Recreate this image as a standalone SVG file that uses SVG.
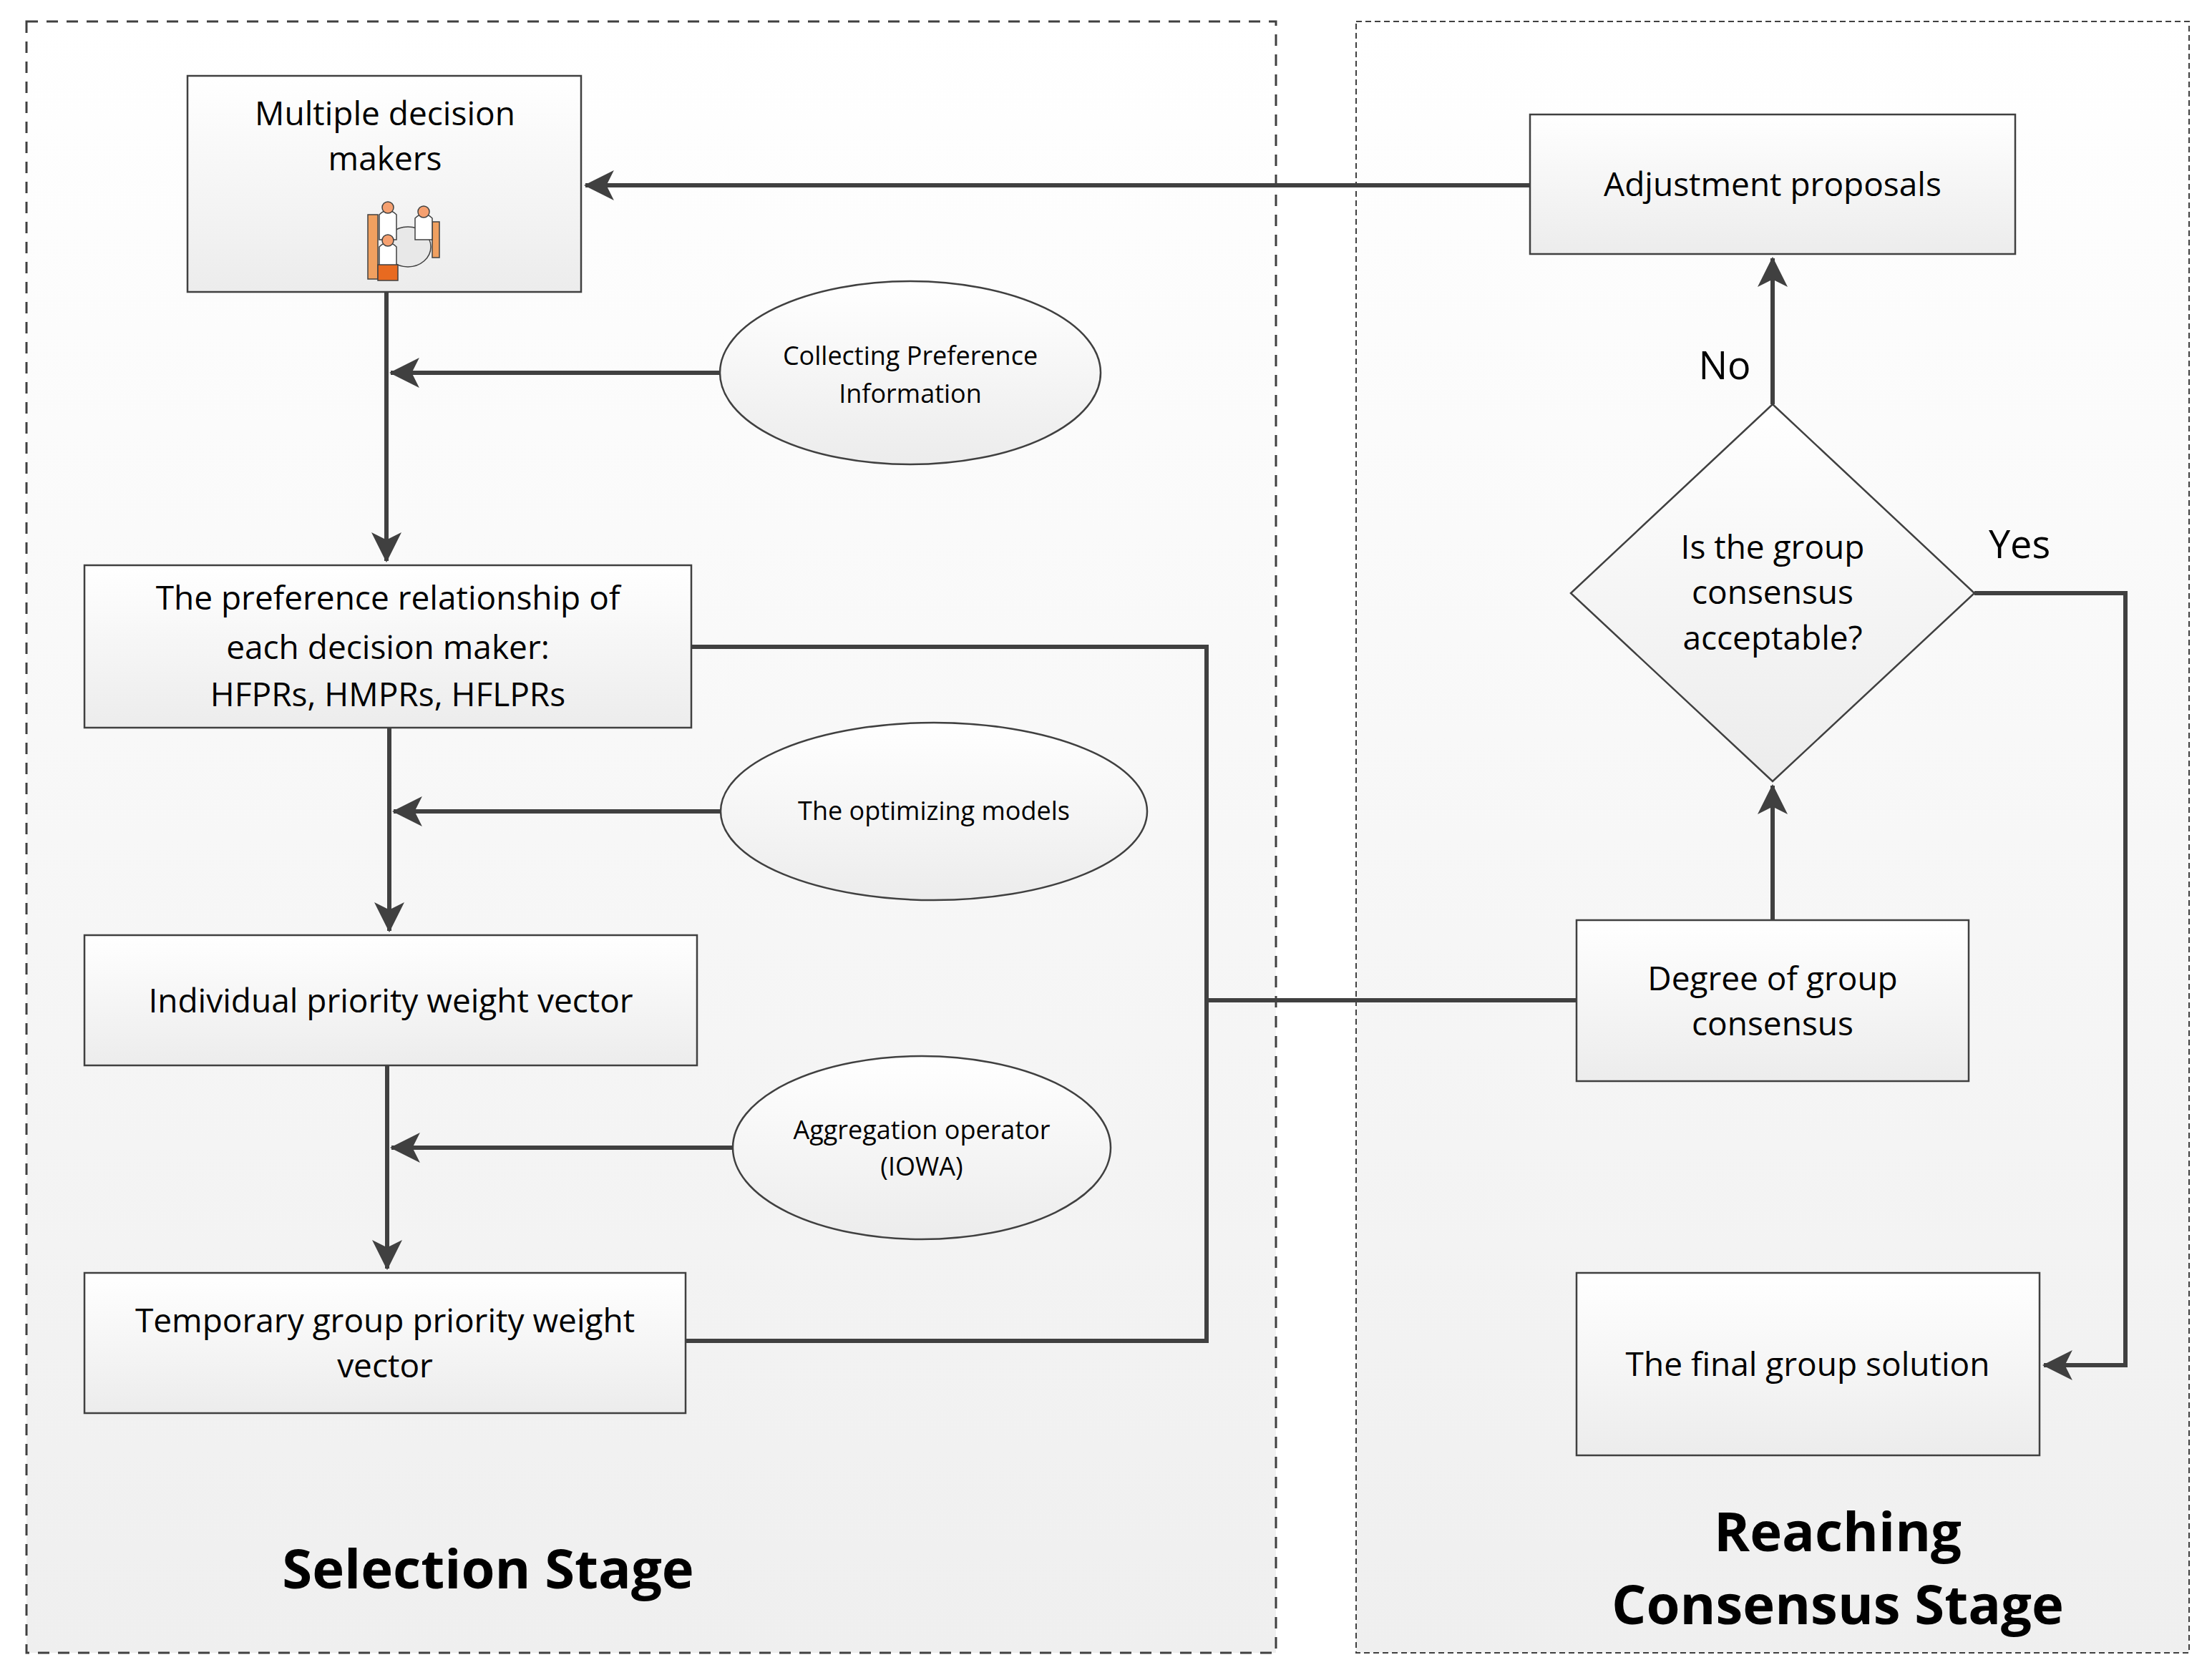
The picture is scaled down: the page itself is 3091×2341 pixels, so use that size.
<svg xmlns="http://www.w3.org/2000/svg" width="3091" height="2341" viewBox="0 0 3091 2341">
<style>
.t{font-family:"Open Sans","Liberation Sans",sans-serif;fill:#000;text-anchor:middle}
.b{font-size:46px}.s{font-size:36px}.y{font-size:54px}
.h{font-family:"Open Sans","Liberation Sans",sans-serif;font-weight:bold;font-size:76px;text-anchor:middle}
.n{stroke:#404040;stroke-width:2.5;fill:url(#ng)}
.c{stroke:#404040;stroke-width:6;fill:none}
</style>
<defs>
<linearGradient id="pg" x1="0" y1="0" x2="0" y2="1"><stop offset="0" stop-color="#fff"/><stop offset="1" stop-color="#efefef"/></linearGradient>
<linearGradient id="ng" x1="0" y1="0" x2="0" y2="1"><stop offset="0" stop-color="#fff"/><stop offset="1" stop-color="#ececec"/></linearGradient>
<marker id="a" viewBox="0 0 20 20" refX="19" refY="10" markerWidth="7" markerHeight="7" markerUnits="strokeWidth" orient="auto"><path d="M20 10 L0 0 L5 10 L0 20 Z" fill="#404040"/></marker>
</defs>
<rect width="3091" height="2341" fill="#fff"/>
<g id="panels">
<rect x="37" y="30" width="1746" height="2280" fill="url(#pg)" stroke="#404040" stroke-width="3" stroke-dasharray="16 12"/>
<rect x="1895" y="30" width="1164" height="2280" fill="url(#pg)" stroke="#404040" stroke-width="2" stroke-dasharray="8 5"/>
<text class="h" x="682" y="2220">Selection Stage</text>
<text class="h" x="2568" y="2168">Reaching</text>
<text class="h" x="2568" y="2270">Consensus Stage</text>
</g>
<g id="connectors">
<path class="c" d="M2138 259 H818" marker-end="url(#a)"/>
<path class="c" d="M540 409 V784" marker-end="url(#a)"/>
<path class="c" d="M1007 521 H546" marker-end="url(#a)"/>
<path class="c" d="M544 1017 V1301" marker-end="url(#a)"/>
<path class="c" d="M1007 1134 H550" marker-end="url(#a)"/>
<path class="c" d="M541 1489 V1773" marker-end="url(#a)"/>
<path class="c" d="M1024 1604 H547" marker-end="url(#a)"/>
<path class="c" d="M966 904 H1686 V1874 H958"/>
<path class="c" d="M1686 1398 H2203"/>
<path class="c" d="M2477 1286 V1098" marker-end="url(#a)"/>
<path class="c" d="M2477 565 V361" marker-end="url(#a)"/>
<path class="c" d="M2759 829 H2970 V1908 H2856" marker-end="url(#a)"/>
<text class="t y" x="2410" y="530">No</text>
<text class="t y" x="2822" y="780">Yes</text>
</g>
<g id="mdm">
<rect class="n" x="262" y="106" width="550" height="302"/>
<text class="t b" x="538" y="175">Multiple decision</text>
<text class="t b" x="538" y="238">makers</text>
<g stroke="#404040" stroke-width="1.5">
<rect x="514" y="300" width="14" height="90" fill="#f0a060"/>
<rect x="604" y="310" width="10" height="50" fill="#f0a060"/>
<ellipse cx="570" cy="345" rx="32" ry="28" fill="#e8e8e8"/>
<path d="M530 300 q12 -12 24 0 v35 h-24z" fill="#fff"/>
<path d="M580 305 q12 -12 24 0 v30 h-24z" fill="#fff"/>
<path d="M530 345 q12 -12 24 0 v30 h-24z" fill="#fff"/>
<circle cx="542" cy="290" r="8" fill="#f5a070"/>
<circle cx="592" cy="296" r="8" fill="#f5a070"/>
<circle cx="542" cy="336" r="8" fill="#f5a070"/>
<rect x="528" y="370" width="28" height="22" fill="#e86a20"/>
</g>
</g>
<g id="adjust"><rect class="n" x="2138" y="160" width="678" height="195"/><text class="t b" x="2477" y="274">Adjustment proposals</text></g>
<g id="collect"><ellipse class="n" cx="1272" cy="521" rx="266" ry="128"/><text class="t s" x="1272" y="510">Collecting Preference</text><text class="t s" x="1272" y="563">Information</text></g>
<g id="pref"><rect class="n" x="118" y="790" width="848" height="227"/><text class="t b" x="542" y="852">The preference relationship of</text><text class="t b" x="542" y="921">each decision maker:</text><text class="t b" x="542" y="987">HFPRs, HMPRs, HFLPRs</text></g>
<g id="optim"><ellipse class="n" cx="1305" cy="1134" rx="298" ry="124"/><text class="t s" x="1305" y="1146">The optimizing models</text></g>
<g id="indiv"><rect class="n" x="118" y="1307" width="856" height="182"/><text class="t b" x="546" y="1415">Individual priority weight vector</text></g>
<g id="aggr"><ellipse class="n" cx="1288" cy="1604" rx="264" ry="128"/><text class="t s" x="1288" y="1592">Aggregation operator</text><text class="t s" x="1288" y="1643">(IOWA)</text></g>
<g id="temp"><rect class="n" x="118" y="1779" width="840" height="196"/><text class="t b" x="538" y="1862">Temporary group priority weight</text><text class="t b" x="538" y="1925">vector</text></g>
<g id="diamond"><path class="n" d="M2477 565 L2759 829 L2477 1092 L2195 829 Z"/><text class="t b" x="2477" y="781">Is the group</text><text class="t b" x="2477" y="844">consensus</text><text class="t b" x="2477" y="908">acceptable?</text></g>
<g id="degree"><rect class="n" x="2203" y="1286" width="548" height="225"/><text class="t b" x="2477" y="1384">Degree of group</text><text class="t b" x="2477" y="1447">consensus</text></g>
<g id="final"><rect class="n" x="2203" y="1779" width="647" height="255"/><text class="t b" x="2526" y="1923">The final group solution</text></g>
</svg>
